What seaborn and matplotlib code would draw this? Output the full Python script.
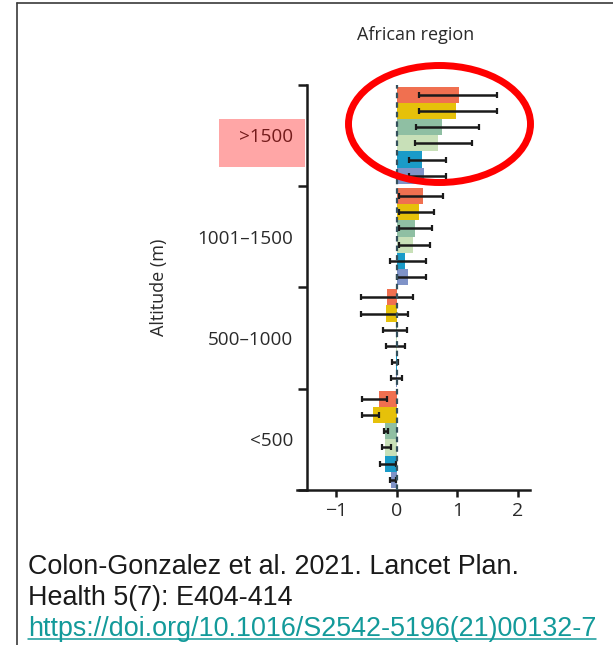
import numpy as np
import pandas as pd
import matplotlib
matplotlib.use("Agg")
import matplotlib.pyplot as plt
import seaborn as sns
from matplotlib.patches import Ellipse, Rectangle
from matplotlib.lines import Line2D

# Altitude bands (top to bottom) and the six projection scenarios
altitudes = [">1500", "1001\u20131500", "500\u20131000", "<500"]
scenarios = ["Scenario 1", "Scenario 2", "Scenario 3", "Scenario 4", "Scenario 5", "Scenario 6"]
colors = ["#f07050", "#e6c10a", "#8fbfa3", "#c8e0b8", "#1a9bc8", "#7f93c8"]

# Change per scenario within each altitude band, with lower/upper bounds
change_gt1500 = [1.03, 0.98, 0.74, 0.68, 0.42, 0.45]
lower_gt1500 = [0.37, 0.37, 0.31, 0.30, 0.20, 0.20]
upper_gt1500 = [1.66, 1.66, 1.35, 1.24, 0.81, 0.82]

change_1001_1500 = [0.43, 0.37, 0.30, 0.27, 0.13, 0.19]
lower_1001_1500 = [0.04, 0.04, 0.04, 0.03, -0.12, 0.01]
upper_1001_1500 = [0.77, 0.62, 0.58, 0.55, 0.48, 0.48]

change_500_1000 = [-0.16, -0.18, -0.02, -0.02, -0.02, -0.01]
lower_500_1000 = [-0.59, -0.59, -0.23, -0.18, -0.08, -0.09]
upper_500_1000 = [0.26, 0.19, 0.16, 0.13, 0.02, 0.08]

change_lt500 = [-0.30, -0.40, -0.19, -0.20, -0.19, -0.09]
lower_lt500 = [-0.58, -0.58, -0.22, -0.25, -0.28, -0.12]
upper_lt500 = [-0.16, -0.29, -0.14, -0.10, -0.01, -0.02]

x_ticks = [-1, 0, 1, 2]
x_tick_labels = ["\u22121", "0", "1", "2"]

changes = [change_gt1500, change_1001_1500, change_500_1000, change_lt500]
lowers = [lower_gt1500, lower_1001_1500, lower_500_1000, lower_lt500]
uppers = [upper_gt1500, upper_1001_1500, upper_500_1000, upper_lt500]

rows = []
for alt, ch, lo, hi in zip(altitudes, changes, lowers, uppers):
    for sc, c, l, h in zip(scenarios, ch, lo, hi):
        rows.append({"altitude": alt, "scenario": sc, "change": c, "lower": l, "upper": h})
df = pd.DataFrame(rows)

sns.set_theme(style="white")
plt.rcParams["font.family"] = ["Open Sans", "DejaVu Sans"]

W, H = 613, 645
fig = plt.figure(figsize=(W / 100, H / 100), dpi=100)


def fx(px):
    return px / W


def fy(py):
    return 1 - py / H


# axes box in pixel terms: left 297, right 530, top 84.5, bottom 490
ax = fig.add_axes([fx(297), fy(490), (530 - 297) / W, (490 - 84.5) / H])

sns.barplot(data=df, y="altitude", x="change", hue="scenario", order=altitudes,
            hue_order=scenarios, palette=colors, orient="h", width=0.96,
            errorbar=None, saturation=1, linewidth=0, legend=False, ax=ax)

# error bars at each bar centre, bars ordered top-to-bottom
bars = sorted(ax.patches, key=lambda p: p.get_y())
ycent = np.array([p.get_y() + p.get_height() / 2 for p in bars])
vals, los, his = [], [], []
for ch, lo, hi in zip(changes, lowers, uppers):
    vals += ch
    los += lo
    his += hi
vals, los, his = np.array(vals), np.array(los), np.array(his)
ax.errorbar(vals, ycent, xerr=[vals - los, his - vals], fmt="none",
            ecolor="#1a1a1a", elinewidth=1.8, capsize=2.4, capthick=1.6, zorder=4)

ax.axvline(0, color="#34505c", lw=1.6, dashes=(2.5, 1.8), zorder=5)

ax.set_xlim(-1.65, 2.2)
ax.set_ylim(3.5, -0.5)
ax.set_xticks(x_ticks)
ax.set_xticklabels(x_tick_labels)

ax.set_yticks([-0.5, 0.5, 1.5, 2.5, 3.5])
ax.set_yticklabels([])
ax.set_yticks(range(len(altitudes)), minor=True)
ax.set_yticklabels(altitudes, minor=True)
ax.tick_params(axis="y", which="minor", length=0, pad=10, labelsize=13.6,
               labelcolor="#2a2a2a")
ax.tick_params(axis="y", which="major", length=6.5, width=1.8, color="#1a1a1a", left=True)
ax.tick_params(axis="x", which="major", length=5, width=1.8, color="#1a1a1a", pad=4,
               bottom=True, labelsize=14, labelcolor="#2a2a2a")

for s in ["top", "right"]:
    ax.spines[s].set_visible(False)
for s in ["left", "bottom"]:
    ax.spines[s].set_linewidth(1.8)
    ax.spines[s].set_color("#1a1a1a")
ax.spines["left"].set_position(("data", -1.48))

ax.set_xlabel("")
ax.set_ylabel("Altitude (m)", fontsize=13, color="#2a2a2a")
ax.yaxis.set_label_coords((168 - 297) / (530 - 297), 0.5)

fig.text(fx(416), fy(35), "African region", ha="center", va="center",
         fontsize=13, color="#2a2a2a")

# highlight over the top altitude label
fig.add_artist(Rectangle((fx(219), fy(167)), (305 - 219) / W, (167 - 119) / H,
                         transform=fig.transFigure, facecolor="#ff0000", alpha=0.35,
                         edgecolor="none", zorder=10))

# ring around the top band
fig.add_artist(Ellipse((fx(439.5), fy(124)), 182 / W, 117 / H,
                       transform=fig.transFigure, fill=False, edgecolor="#ff0000",
                       linewidth=5, zorder=11))

# frame lines
fig.add_artist(Line2D([fx(17), fx(17)], [fy(2.5), 0], transform=fig.transFigure,
                      color="#3a3a3a", lw=1.2))
fig.add_artist(Line2D([fx(17), 1], [fy(2.5), fy(2.5)], transform=fig.transFigure,
                      color="#3a3a3a", lw=1.2))

cap_font = ["Liberation Sans", "DejaVu Sans"]
fig.text(fx(28), fy(574), "Colon-Gonzalez et al. 2021. Lancet Plan.", ha="left",
         va="baseline", fontsize=19.4, family=cap_font, color="#1a1a1a")
fig.text(fx(28), fy(605), "Health 5(7): E404-414", ha="left",
         va="baseline", fontsize=19.4, family=cap_font, color="#1a1a1a")
url = fig.text(fx(28), fy(636), "https://doi.org/10.1016/S2542-5196(21)00132-7", ha="left",
               va="baseline", fontsize=19.4, family=cap_font, color="#139a9a")

fig.canvas.draw()
bb = url.get_window_extent()
uy = fy(639)
fig.add_artist(Line2D([bb.x0 / W, bb.x1 / W], [uy, uy], transform=fig.transFigure,
                      color="#139a9a", lw=1.1))

fig.savefig("out.png", dpi=100)
